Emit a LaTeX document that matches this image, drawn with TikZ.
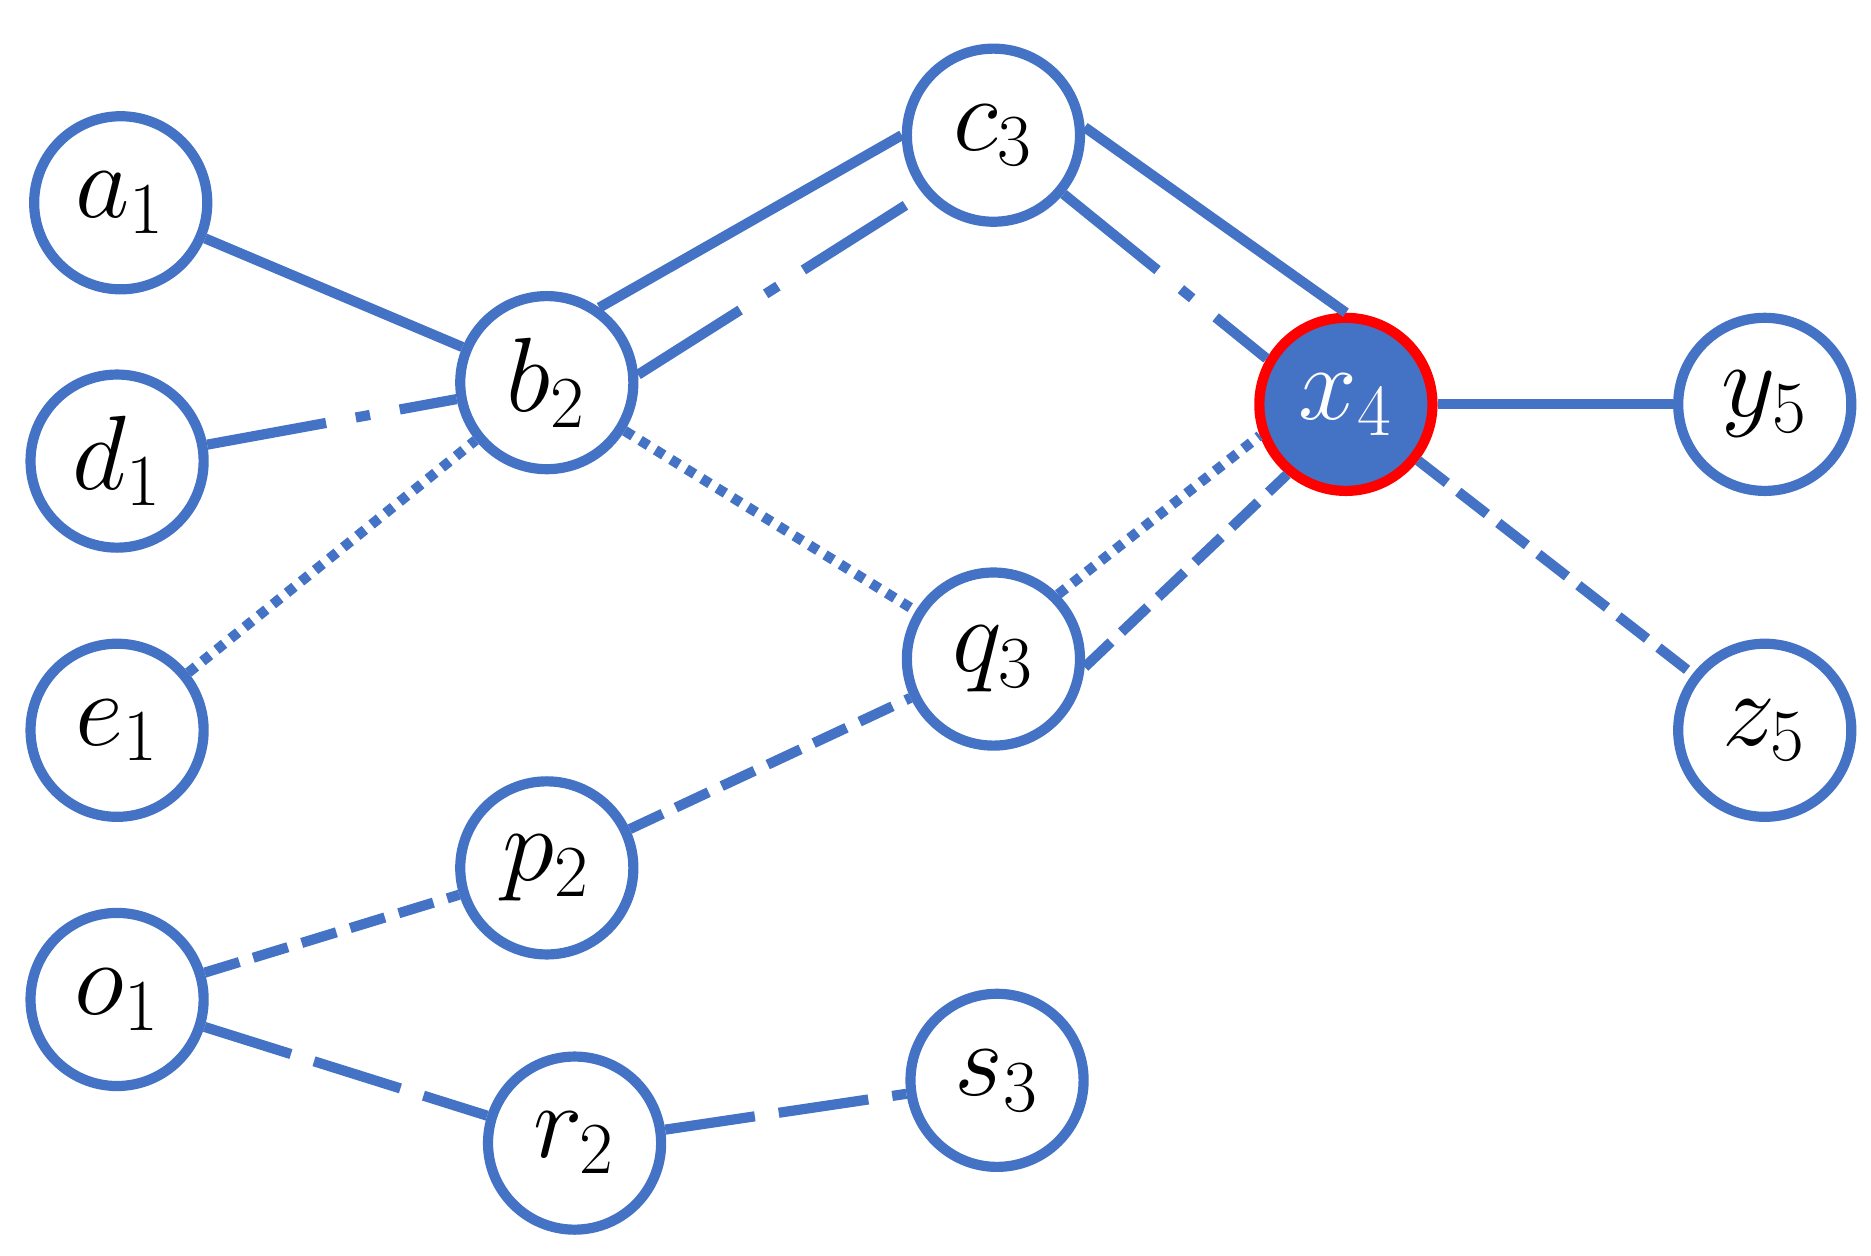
\documentclass[tikz,border=0pt]{standalone}
\begin{document}
\begin{tikzpicture}[x=0.01cm,y=-0.01cm,
  every node/.style={circle,draw=nb,line width=2.4pt,minimum size=4.3cm/3,inner sep=0pt,font=\fontsize{24}{24}\selectfont},
  ln/.style={draw=nb,line width=2.4pt},
  dsh/.style={ln,dash pattern=on 0.3cm off 0.12cm},
  ldsh/.style={ln,dash pattern=on 0.75cm off 0.2cm},
  dtt/.style={ln,dash pattern=on 0.08cm off 0.07cm},
  ddot/.style={ln,dash pattern=on 1cm off 0.25cm on 0.12cm off 0.25cm}]
\definecolor{nb}{RGB}{68,114,196}
\useasboundingbox (0,0) rectangle (1550,1040);
\node (a1) at (100,168) {$a_1$};
\node (d1) at (97,382) {$d_1$};
\node (e1) at (97,605) {$e_1$};
\node (o1) at (97,828) {$o_1$};
\node (b2) at (453,317) {$b_2$};
\node (p2) at (453,719) {$p_2$};
\node (r2) at (476,947) {$r_2$};
\node (c3) at (823,112) {$c_3$};
\node (q3) at (823,546) {$q_3$};
\node (s3) at (826,895) {$s_3$};
\node[fill=nb,draw=red,text=white] (x4) at (1115,335) {$x_4$};
\node (y5) at (1462,335) {$y_5$};
\node (z5) at (1462,605) {$z_5$};
\draw[ln] (a1) -- (b2);
\draw[ddot] (d1) -- (b2);
\draw[dtt] (e1) -- (b2);
\draw[dsh] (o1) -- (p2);
\draw[ldsh] (o1) -- (r2);
\draw[ldsh] (r2) -- (s3);
\draw[ln] (b2.55) -- (c3.180);
\draw[ddot] (b2.5) -- (c3.220);
\draw[dtt] (b2) -- (q3);
\draw[dsh] (p2) -- (q3);
\draw[ln] (c3.5) -- (x4.90);
\draw[ddot] (c3.320) -- (x4.150);
\draw[dtt] (q3.45) -- (x4.200);
\draw[dsh] (q3.355) -- (x4.230);
\draw[ln] (x4) -- (y5);
\draw[dsh] (x4) -- (z5);
\end{tikzpicture}
\end{document}
